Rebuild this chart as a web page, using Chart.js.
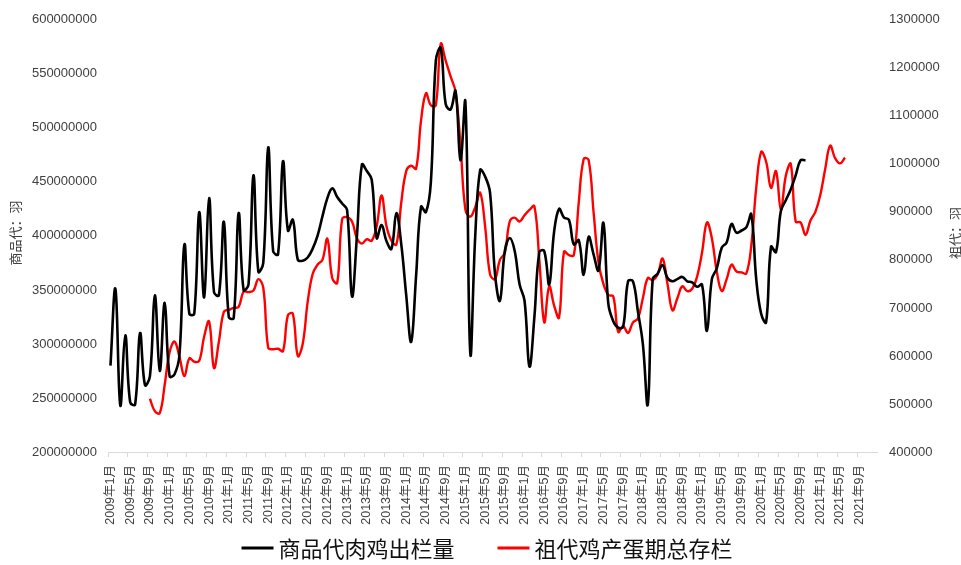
<!DOCTYPE html>
<html>
<head>
<meta charset="utf-8">
<script src="https://cdn.jsdelivr.net/npm/chart.js@4.4.1/dist/chart.umd.min.js"></script>
<style>
  html, body { margin: 0; padding: 0; background: #ffffff; }
  canvas { display: block; }
</style>
</head>
<body>
<canvas id="chart" width="961" height="565"></canvas>
<script>
// Monthly categories, 2009年1月 … 2021年12月
const months = [];
for (let y = 2009; y <= 2021; y++) {
  for (let m = 1; m <= 12; m++) months.push(y + '年' + m + '月');
}

// 商品代肉鸡出栏量 (羽), monthly from 2009年1月
const broilerStart = '2009年1月';
const broilerOutput = [
  280000000, 351000000, 243000000, 308000000, 246000000, 244000000, 310000000, 262000000, 270000000, 345000000, 275000000, 338000000,
  270000000, 272000000, 290000000, 392000000, 328000000, 328000000, 422000000, 343000000, 435000000, 348000000, 345000000, 413000000,
  325000000, 324000000, 421000000, 350000000, 355000000, 456000000, 367000000, 375000000, 482000000, 386000000, 383000000, 469000000,
  405000000, 415000000, 378000000, 377000000, 380000000, 388000000, 400000000, 418000000, 435000000, 444000000, 436000000, 430000000,
  424000000, 344000000, 400000000, 466000000, 460000000, 452000000, 398000000, 410000000, 395000000, 388000000, 421000000, 392000000,
  345000000, 302000000, 363000000, 427000000, 422000000, 450000000, 562000000, 574000000, 522000000, 517000000, 534000000, 470000000,
  524000000, 291000000, 400000000, 461000000, 455000000, 440000000, 365000000, 340000000, 386000000, 398000000, 386000000, 355000000,
  340000000, 279000000, 325000000, 385000000, 386000000, 355000000, 404000000, 425000000, 417000000, 415000000, 392000000, 396000000,
  364000000, 399000000, 383000000, 368000000, 412000000, 337000000, 321000000, 315000000, 316000000, 358000000, 358000000, 330000000,
  300000000, 244000000, 360000000, 365000000, 373000000, 361000000, 358000000, 360000000, 362000000, 358000000, 357000000, 353000000,
  355000000, 312000000, 360000000, 370000000, 389000000, 394000000, 411000000, 403000000, 405000000, 408000000, 420000000, 360000000,
  328000000, 320000000, 390000000, 385000000, 423000000, 433000000, 443000000, 456000000, 470000000, 470000000
];

// 祖代鸡产蛋期总存栏 (羽), monthly from 2009年9月
const layingStart = '2009年9月';
const layingStock = [
  511000, 485000, 481000, 540000,
  608000, 630000, 598000, 558000, 595000, 588000, 590000, 640000, 672000, 575000, 630000, 692000,
  696000, 700000, 702000, 734000, 733000, 736000, 760000, 742000, 617000, 614000, 615000, 610000,
  685000, 688000, 600000, 625000, 712000, 770000, 790000, 800000, 844000, 762000, 752000, 885000,
  889000, 880000, 845000, 834000, 843000, 840000, 870000, 934000, 870000, 840000, 832000, 920000,
  985000, 996000, 990000, 1090000, 1147000, 1122000, 1122000, 1250000, 1215000, 1182000, 1150000, 1040000,
  905000, 890000, 910000, 940000, 870000, 770000, 760000, 800000, 815000, 880000, 888000, 880000,
  893000, 904000, 912000, 800000, 670000, 745000, 705000, 680000, 817000, 810000, 810000, 920000,
  1010000, 1008000, 900000, 795000, 750000, 727000, 724000, 650000, 662000, 648000, 670000, 678000,
  720000, 762000, 758000, 770000, 803000, 750000, 695000, 720000, 745000, 735000, 740000, 765000,
  815000, 878000, 845000, 776000, 735000, 760000, 790000, 776000, 774000, 772000, 830000, 950000,
  1025000, 1005000, 950000, 985000, 905000, 975000, 1000000, 880000, 878000, 852000, 882000, 900000,
  935000, 990000, 1038000, 1012000, 1001000, 1013000
];

// Axis ranges
const leftAxis = { min: 200000000, max: 600000000, step: 50000000, title: '商品代：羽' };
const rightAxis = { min: 400000, max: 1300000, step: 100000, title: '祖代：羽' };
const labelEvery = 4;

// Place a series on the month axis starting at its first month
function alignToMonths(start, values) {
  const offset = months.indexOf(start);
  return months.map((_, i) => {
    const k = i - offset;
    return (k >= 0 && k < values.length) ? values[k] : null;
  });
}

const tickFont = { family: '"Liberation Sans", Arial, sans-serif', size: 13 };
const tickColor = '#404040';

// Vertical axis titles (both read bottom-to-top) and the line legend below the plot
const decorations = {
  id: 'decorations',
  afterDraw(chart) {
    const ctx = chart.ctx;
    const area = chart.chartArea;
    const midY = (area.top + area.bottom) / 2;
    ctx.save();
    ctx.fillStyle = tickColor;
    ctx.font = '13px "Noto Sans CJK SC", sans-serif';
    ctx.textAlign = 'center';
    ctx.textBaseline = 'middle';
    [[15, leftAxis.title], [955, rightAxis.title]].forEach(([x, text]) => {
      ctx.save();
      ctx.translate(x, midY - 3);
      ctx.rotate(-Math.PI / 2);
      ctx.fillText(text, 0, 0);
      ctx.restore();
    });

    // legend
    const lineLen = 32, textGap = 5, itemGap = 43, y = 548;
    ctx.font = '22px "Noto Sans CJK SC", sans-serif';
    ctx.textAlign = 'left';
    const items = chart.data.datasets.map(ds => ({
      label: ds.label, color: ds.borderColor, w: ctx.measureText(ds.label).width
    }));
    const total = items.reduce((s, it) => s + lineLen + textGap + it.w, 0) + itemGap * (items.length - 1);
    let x = 487 - total / 2;
    items.forEach(it => {
      ctx.strokeStyle = it.color;
      ctx.lineWidth = 3;
      ctx.beginPath();
      ctx.moveTo(x, y);
      ctx.lineTo(x + lineLen, y);
      ctx.stroke();
      ctx.fillStyle = '#111111';
      ctx.fillText(it.label, x + lineLen + textGap, y + 1);
      x += lineLen + textGap + it.w + itemGap;
    });
    ctx.restore();
  }
};

new Chart(document.getElementById('chart'), {
  type: 'line',
  data: {
    labels: months,
    datasets: [
      {
        label: '商品代肉鸡出栏量',
        data: alignToMonths(broilerStart, broilerOutput),
        yAxisID: 'yLeft',
        borderColor: '#000000',
        borderWidth: 2.6,
        tension: 0.4,
        pointRadius: 0,
        pointHoverRadius: 0,
        fill: false
      },
      {
        label: '祖代鸡产蛋期总存栏',
        data: alignToMonths(layingStart, layingStock),
        yAxisID: 'yRight',
        borderColor: '#ff0000',
        borderWidth: 2.4,
        tension: 0.4,
        pointRadius: 0,
        pointHoverRadius: 0,
        fill: false
      }
    ]
  },
  options: {
    responsive: false,
    devicePixelRatio: 1,
    animation: false,
    layout: { padding: { top: 17, bottom: 35, left: 0, right: 0 } },
    plugins: {
      legend: { display: false },
      tooltip: { enabled: false }
    },
    scales: {
      x: {
        type: 'category',
        offset: true,
        afterFit(scale) { scale.height = 78; },
        grid: {
          offset: true,
          drawOnChartArea: false,
          drawTicks: true,
          tickLength: 5,
          lineWidth: 1,
          color: ctx => (ctx.index % labelEvery === 0 ? '#d9d9d9' : 'rgba(0,0,0,0)')
        },
        border: { display: true, color: '#d9d9d9', width: 1 },
        ticks: {
          autoSkip: false,
          maxRotation: 90,
          minRotation: 90,
          padding: 8,
          color: tickColor,
          font: { family: '"Liberation Sans", "Noto Sans CJK SC", sans-serif', size: 12.5 },
          callback(value, index) {
            return index % labelEvery === 0 ? months[index] : '';
          }
        }
      },
      yLeft: {
        type: 'linear',
        position: 'left',
        min: leftAxis.min,
        max: leftAxis.max,
        afterFit(scale) { scale.width = 108; },
        grid: { display: false, drawTicks: false },
        border: { display: false },
        ticks: {
          stepSize: leftAxis.step,
          padding: 11,
          color: tickColor,
          font: tickFont,
          callback: v => String(v)
        }
      },
      yRight: {
        type: 'linear',
        position: 'right',
        min: rightAxis.min,
        max: rightAxis.max,
        afterFit(scale) { scale.width = 84; },
        grid: { display: false, drawTicks: false },
        border: { display: false },
        ticks: {
          stepSize: rightAxis.step,
          padding: 12,
          color: tickColor,
          font: tickFont,
          callback: v => String(v)
        }
      }
    }
  },
  plugins: [decorations]
});
</script>
</body>
</html>
